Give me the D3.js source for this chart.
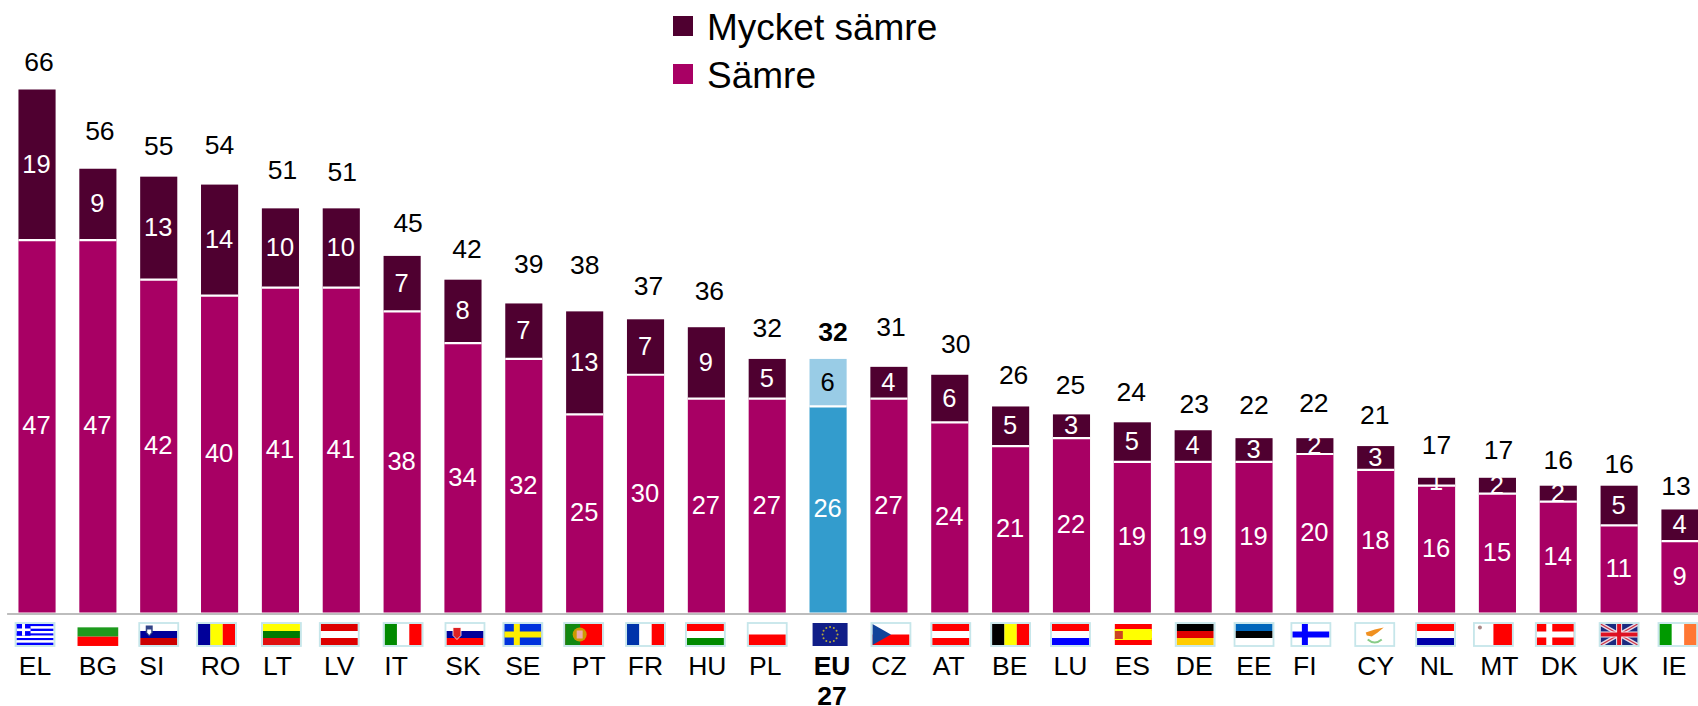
<!DOCTYPE html>
<html>
<head>
<meta charset="utf-8">
<script src="https://cdn.jsdelivr.net/npm/d3@7"></script>
<style>
  html, body { margin: 0; padding: 0; background: #fff; overflow: hidden; }
  text { font-family: "Liberation Sans", Arial, sans-serif; }
</style>
</head>
<body>
<svg id="chart" width="1698" height="706"></svg>
<script>
var countries = ["EL", "BG", "SI", "RO", "LT", "LV", "IT", "SK", "SE", "PT", "FR", "HU", "PL", "EU 27",
    "CZ", "AT", "BE", "LU", "ES", "DE", "EE", "FI", "CY", "NL", "MT", "DK", "UK", "IE"];
var samre = [47, 47, 42, 40, 41, 41, 38, 34, 32, 25, 30, 27, 27, 26, 27, 24, 21, 22, 19, 19, 19, 20, 18, 16, 15, 14, 11, 9];
var mycketSamre = [19, 9, 13, 14, 10, 10, 7, 8, 7, 13, 7, 9, 5, 6, 4, 6, 5, 3, 5, 4, 3, 2, 3, 1, 2, 2, 5, 4];
var totals = [66, 56, 55, 54, 51, 51, 45, 42, 39, 38, 37, 36, 32, 32, 31, 30, 26, 25, 24, 23, 22, 22, 21, 17, 17, 16, 16, 13];
var seriesNames = ["Mycket sämre", "Sämre"];

// the source labels sit by hand, not on a grid, so these nudge them off the scale
var totalDx = [2, 2, 0, 0, 2, 1, 6, 4, 5, 0, 3, 3, 0, 5, 2, 6, 3, -1, -1, 1, 0, -1, -1, 0, 1, 0, 0, -4];
var totalGap = [19, 29, 22, 31, 29, 27, 24, 22, 30, 37, 24, 27, 22, 18, 31, 22, 22, 20, 21, 17, 24, 26, 22, 24, 19, 17, 13, 14];
var labelDx = [-2, 0, -7, 1, -3, -2, -6, 0, -1, 4, 0, 1, -2, 4, 0, -1, -1, -1, 0, 1, 0, -10, 0, 0, 2, 1, 1, -6];
var flagDx = [-2, 0, 0, -3, 1, -2, 1, 2, -1, -1, 0, -1, 0, 2, 2, 1, 0, -1, 1, 2, 0, -4, -1, -1, -4, -3, 0, -2];

var darkColor = "#4f0030", midColor = "#a80064";
var euDark = "#99cce6", euMid = "#339ccd";
var euIndex = countries.indexOf("EU 27");

var svg = d3.select("#chart");
var base = 612.5;

var x = d3.scaleBand().domain(countries).range([6.6, 1710.4]).paddingInner(0.39).paddingOuter(0.195);
var y = d3.scaleLinear().domain([0, 66]).range([base, 89.5]);

// bars
var bars = svg.append("g");
bars.selectAll("rect.mid")
    .data(countries)
    .enter()
    .append("rect")
    .attr("class", "mid")
    .attr("x", function (d) { return x(d); })
    .attr("y", function (d, i) { return y(samre[i]); })
    .attr("width", x.bandwidth())
    .attr("height", function (d, i) { return base - y(samre[i]); })
    .attr("fill", function (d, i) { return i === euIndex ? euMid : midColor; });

bars.selectAll("rect.dark")
    .data(countries)
    .enter()
    .append("rect")
    .attr("class", "dark")
    .attr("x", function (d) { return x(d); })
    .attr("y", function (d, i) { return y(samre[i] + mycketSamre[i]); })
    .attr("width", x.bandwidth())
    .attr("height", function (d, i) { return y(samre[i]) - y(samre[i] + mycketSamre[i]); })
    .attr("fill", function (d, i) { return i === euIndex ? euDark : darkColor; });

// white line between the two segments
bars.selectAll("line")
    .data(countries)
    .enter()
    .append("line")
    .attr("x1", function (d) { return x(d); })
    .attr("x2", function (d) { return x(d) + x.bandwidth(); })
    .attr("y1", function (d, i) { return y(samre[i]); })
    .attr("y2", function (d, i) { return y(samre[i]); })
    .attr("stroke", "#fff")
    .attr("stroke-width", 2.2);

// value labels
var labels = svg.append("g").attr("text-anchor", "middle").attr("font-size", 25.5);
labels.selectAll("text.mid")
    .data(countries)
    .enter()
    .append("text")
    .attr("x", function (d) { return x(d) + x.bandwidth() / 2 - 0.5; })
    .attr("y", function (d, i) { return y(samre[i] / 2) + 8; })
    .attr("fill", "#fff")
    .text(function (d, i) { return samre[i]; });

labels.selectAll("text.dark")
    .data(countries)
    .enter()
    .append("text")
    .attr("x", function (d) { return x(d) + x.bandwidth() / 2 - 0.5; })
    .attr("y", function (d, i) { return y(samre[i] + mycketSamre[i] / 2) + 8; })
    .attr("fill", function (d, i) { return i === euIndex ? "#000" : "#fff"; })
    .text(function (d, i) { return mycketSamre[i]; });

labels.selectAll("text.total")
    .data(countries)
    .enter()
    .append("text")
    .attr("x", function (d, i) { return x(d) + x.bandwidth() / 2 + totalDx[i]; })
    .attr("y", function (d, i) { return y(totals[i]) - totalGap[i]; })
    .attr("font-size", 26.5)
    .attr("font-weight", function (d, i) { return i === euIndex ? "bold" : "normal"; })
    .attr("fill", "#000")
    .text(function (d, i) { return totals[i]; });

// axis: the grey line and the country codes
var axis = svg.append("g")
    .attr("transform", "translate(0," + (base + 1) + ")")
    .call(d3.axisBottom(x).tickSize(0).tickSizeOuter(0));
axis.select(".domain").attr("stroke", "#bdbdbd").attr("stroke-width", 2);
axis.selectAll(".tick text")
    .attr("x", function (d, i) { return labelDx[i]; })
    .attr("y", 0)
    .attr("dy", 0)
    .attr("transform", "translate(0,61.5)")
    .attr("font-size", 26.5)
    .attr("font-family", '"Liberation Sans", Arial, sans-serif')
    .attr("fill", "#000")
    .each(function (d, i) {
        if (i !== euIndex) return;
        var t = d3.select(this).attr("font-weight", "bold").text(null);
        d.split(" ").forEach(function (part, j) {
            t.append("tspan").attr("x", labelDx[i]).attr("y", j * 30).text(part);
        });
    });

// flags, drawn by hand in a 37x21 box round the middle
var blue = "#0000ff", navy = "#000099", red = "#ff0000", green = "#008a00", white = "#fff", yellow = "#ffff00";
var stripesH = {
    BG: [white, "#1d9a1d", red], SI: [white, navy, "#cc0000"], LT: [yellow, "#007a00", "#e01010"],
    LV: ["#dd0000", white, "#dd0000"], SK: [white, navy, red], HU: [red, white, green], PL: [white, red],
    AT: [red, white, red], LU: [red, white, blue], ES: [red, yellow, red], DE: ["#000", "#e00000", "#ffcc00"],
    EE: ["#0066bb", "#000", white], NL: [red, white, "#0000aa"]
};
var stripesV = {
    RO: [navy, yellow, red], IT: [green, white, red], FR: ["#0033aa", white, red],
    BE: ["#000", yellow, red], IE: ["#009a00", white, "#ff7733"]
};
var noBorder = ["BG", "EU", "ES"];

function cross(g, bg, fg, vx) {
    g.append("rect").attr("x", -18.5).attr("y", -10.5).attr("width", 37).attr("height", 21).attr("fill", bg);
    g.append("rect").attr("x", vx).attr("y", -10.5).attr("width", 6).attr("height", 21).attr("fill", fg);
    g.append("rect").attr("x", -18.5).attr("y", -3).attr("width", 37).attr("height", 6).attr("fill", fg);
}

function drawFlag(g, code) {
    if (stripesH[code]) {
        var sh = stripesH[code];
        sh.forEach(function (c, k) {
            g.append("rect").attr("x", -18.5).attr("y", -10.5 + k * 21 / sh.length)
                .attr("width", 37).attr("height", 21 / sh.length).attr("fill", c);
        });
    } else if (stripesV[code]) {
        var sv = stripesV[code];
        sv.forEach(function (c, k) {
            g.append("rect").attr("x", -18.5 + k * 37 / sv.length).attr("y", -10.5)
                .attr("width", 37 / sv.length).attr("height", 21).attr("fill", c);
        });
    }
    if (code === "EL") {
        d3.range(9).forEach(function (k) {
            g.append("rect").attr("x", -18.5).attr("y", -10.5 + k * 21 / 9).attr("width", 37)
                .attr("height", 21 / 9).attr("fill", k % 2 ? white : blue);
        });
        g.append("rect").attr("x", -18.5).attr("y", -10.5).attr("width", 14).attr("height", 11.7).attr("fill", blue);
        g.append("rect").attr("x", -13).attr("y", -10.5).attr("width", 3).attr("height", 11.7).attr("fill", white);
        g.append("rect").attr("x", -18.5).attr("y", -6).attr("width", 14).attr("height", 2.6).attr("fill", white);
    } else if (code === "SI") {
        g.append("path").attr("d", "M-13,-9 h7 v7 l-3.5,4 l-3.5,-4 z").attr("fill", "#334488");
        g.append("path").attr("d", "M-11.5,-5 h4 v3 l-2,2.5 l-2,-2.5 z").attr("fill", white);
    } else if (code === "SK") {
        g.append("path").attr("d", "M-12,-7 h8 v8 l-4,4 l-4,-4 z").attr("fill", "#dd2222").attr("stroke", white).attr("stroke-width", 0.8);
    } else if (code === "SE") {
        cross(g, "#0033dd", "#ffee00", -9);
    } else if (code === "FI") {
        cross(g, white, blue, -9);
    } else if (code === "DK") {
        cross(g, red, white, -9);
    } else if (code === "PT") {
        g.append("rect").attr("x", -18.5).attr("y", -10.5).attr("width", 37).attr("height", 21).attr("fill", red);
        g.append("rect").attr("x", -18.5).attr("y", -10.5).attr("width", 15).attr("height", 21).attr("fill", "#118811");
        g.append("circle").attr("cx", -4).attr("r", 7).attr("fill", "#cc9900");
        g.append("rect").attr("x", -7).attr("y", -4).attr("width", 6).attr("height", 8).attr("fill", "#eeaaaa");
    } else if (code === "EU") {
        g.append("rect").attr("x", -17.5).attr("y", -11.5).attr("width", 35).attr("height", 23).attr("fill", "#111e88");
        d3.range(12).forEach(function (k) {
            var a = k * Math.PI / 6;
            g.append("circle").attr("cx", 7.5 * Math.cos(a)).attr("cy", 7.5 * Math.sin(a)).attr("r", 1).attr("fill", "#b5a83a");
        });
    } else if (code === "CZ") {
        g.append("rect").attr("x", -18.5).attr("y", -10.5).attr("width", 37).attr("height", 10.5).attr("fill", white);
        g.append("rect").attr("x", -18.5).attr("y", 0).attr("width", 37).attr("height", 10.5).attr("fill", red);
        g.append("path").attr("d", "M-18.5,-10.5 L0,0 L-18.5,10.5 z").attr("fill", "#11449a");
    } else if (code === "CY") {
        g.append("rect").attr("x", -18.5).attr("y", -10.5).attr("width", 37).attr("height", 21).attr("fill", white);
        g.append("path").attr("d", "M-9,-2 L0,-5 L9,-7 L3,-2 L-3,2 L-8,1 z").attr("fill", "#f09020");
        g.append("path").attr("d", "M-7,5 Q0,11 7,5").attr("fill", "none").attr("stroke", "#88cc88").attr("stroke-width", 2);
    } else if (code === "MT") {
        g.append("rect").attr("x", -18.5).attr("y", -10.5).attr("width", 18.5).attr("height", 21).attr("fill", white);
        g.append("rect").attr("x", 0).attr("y", -10.5).attr("width", 18.5).attr("height", 21).attr("fill", red);
        g.append("circle").attr("cx", -13.5).attr("cy", -7).attr("r", 2).attr("fill", "#aa8888");
    } else if (code === "UK") {
        g.append("rect").attr("x", -18.5).attr("y", -10.5).attr("width", 37).attr("height", 21).attr("fill", "#1a2a80");
        g.append("path").attr("d", "M-18.5,-10.5 L18.5,10.5 M18.5,-10.5 L-18.5,10.5").attr("stroke", "#e8dbe8").attr("stroke-width", 4);
        g.append("path").attr("d", "M-18.5,-10.5 L18.5,10.5 M18.5,-10.5 L-18.5,10.5").attr("stroke", "#cc3344").attr("stroke-width", 1.3);
        g.append("rect").attr("x", -3).attr("y", -10.5).attr("width", 6).attr("height", 21).attr("fill", "#f4e8ee");
        g.append("rect").attr("x", -18.5).attr("y", -3).attr("width", 37).attr("height", 6).attr("fill", "#f4e8ee");
        g.append("rect").attr("x", -2).attr("y", -10.5).attr("width", 4).attr("height", 21).attr("fill", "#dd1122");
        g.append("rect").attr("x", -18.5).attr("y", -2).attr("width", 37).attr("height", 4).attr("fill", "#dd1122");
    } else if (code === "ES") {
        g.append("rect").attr("x", -18.5).attr("y", -5.5).attr("width", 37).attr("height", 11).attr("fill", yellow);
        g.append("rect").attr("x", -18.5).attr("y", -3.5).attr("width", 8).attr("height", 8).attr("fill", "#cc4422");
    }
    if (noBorder.indexOf(code) < 0) {
        g.append("rect").attr("x", -19.5).attr("y", -11.5).attr("width", 39).attr("height", 23)
            .attr("fill", "none").attr("stroke", "#c6e6ea").attr("stroke-width", 1.8);
    }
}

svg.append("g").selectAll("g")
    .data(countries)
    .enter()
    .append("g")
    .attr("transform", function (d, i) {
        var cx = x(d) + x.bandwidth() / 2 + flagDx[i];
        // the Bulgarian flag in the source is a bigger picture than the rest
        if (d === "BG") return "translate(" + cx + ",632) scale(1.1,1.33)";
        return "translate(" + cx + ",634.5)";
    })
    .each(function (d) { drawFlag(d3.select(this), d.split(" ")[0]); });

// legend
var legendRows = [[26, darkColor], [74, midColor]];
var legend = svg.append("g");
seriesNames.forEach(function (name, i) {
    legend.append("rect")
        .attr("x", 673)
        .attr("y", legendRows[i][0] - 10)
        .attr("width", 20)
        .attr("height", 20)
        .attr("fill", legendRows[i][1]);
    legend.append("text")
        .attr("x", 707)
        .attr("y", legendRows[i][0] + 13.5)
        .attr("font-size", 37)
        .attr("fill", "#000")
        .text(name);
});
</script>
</body>
</html>
